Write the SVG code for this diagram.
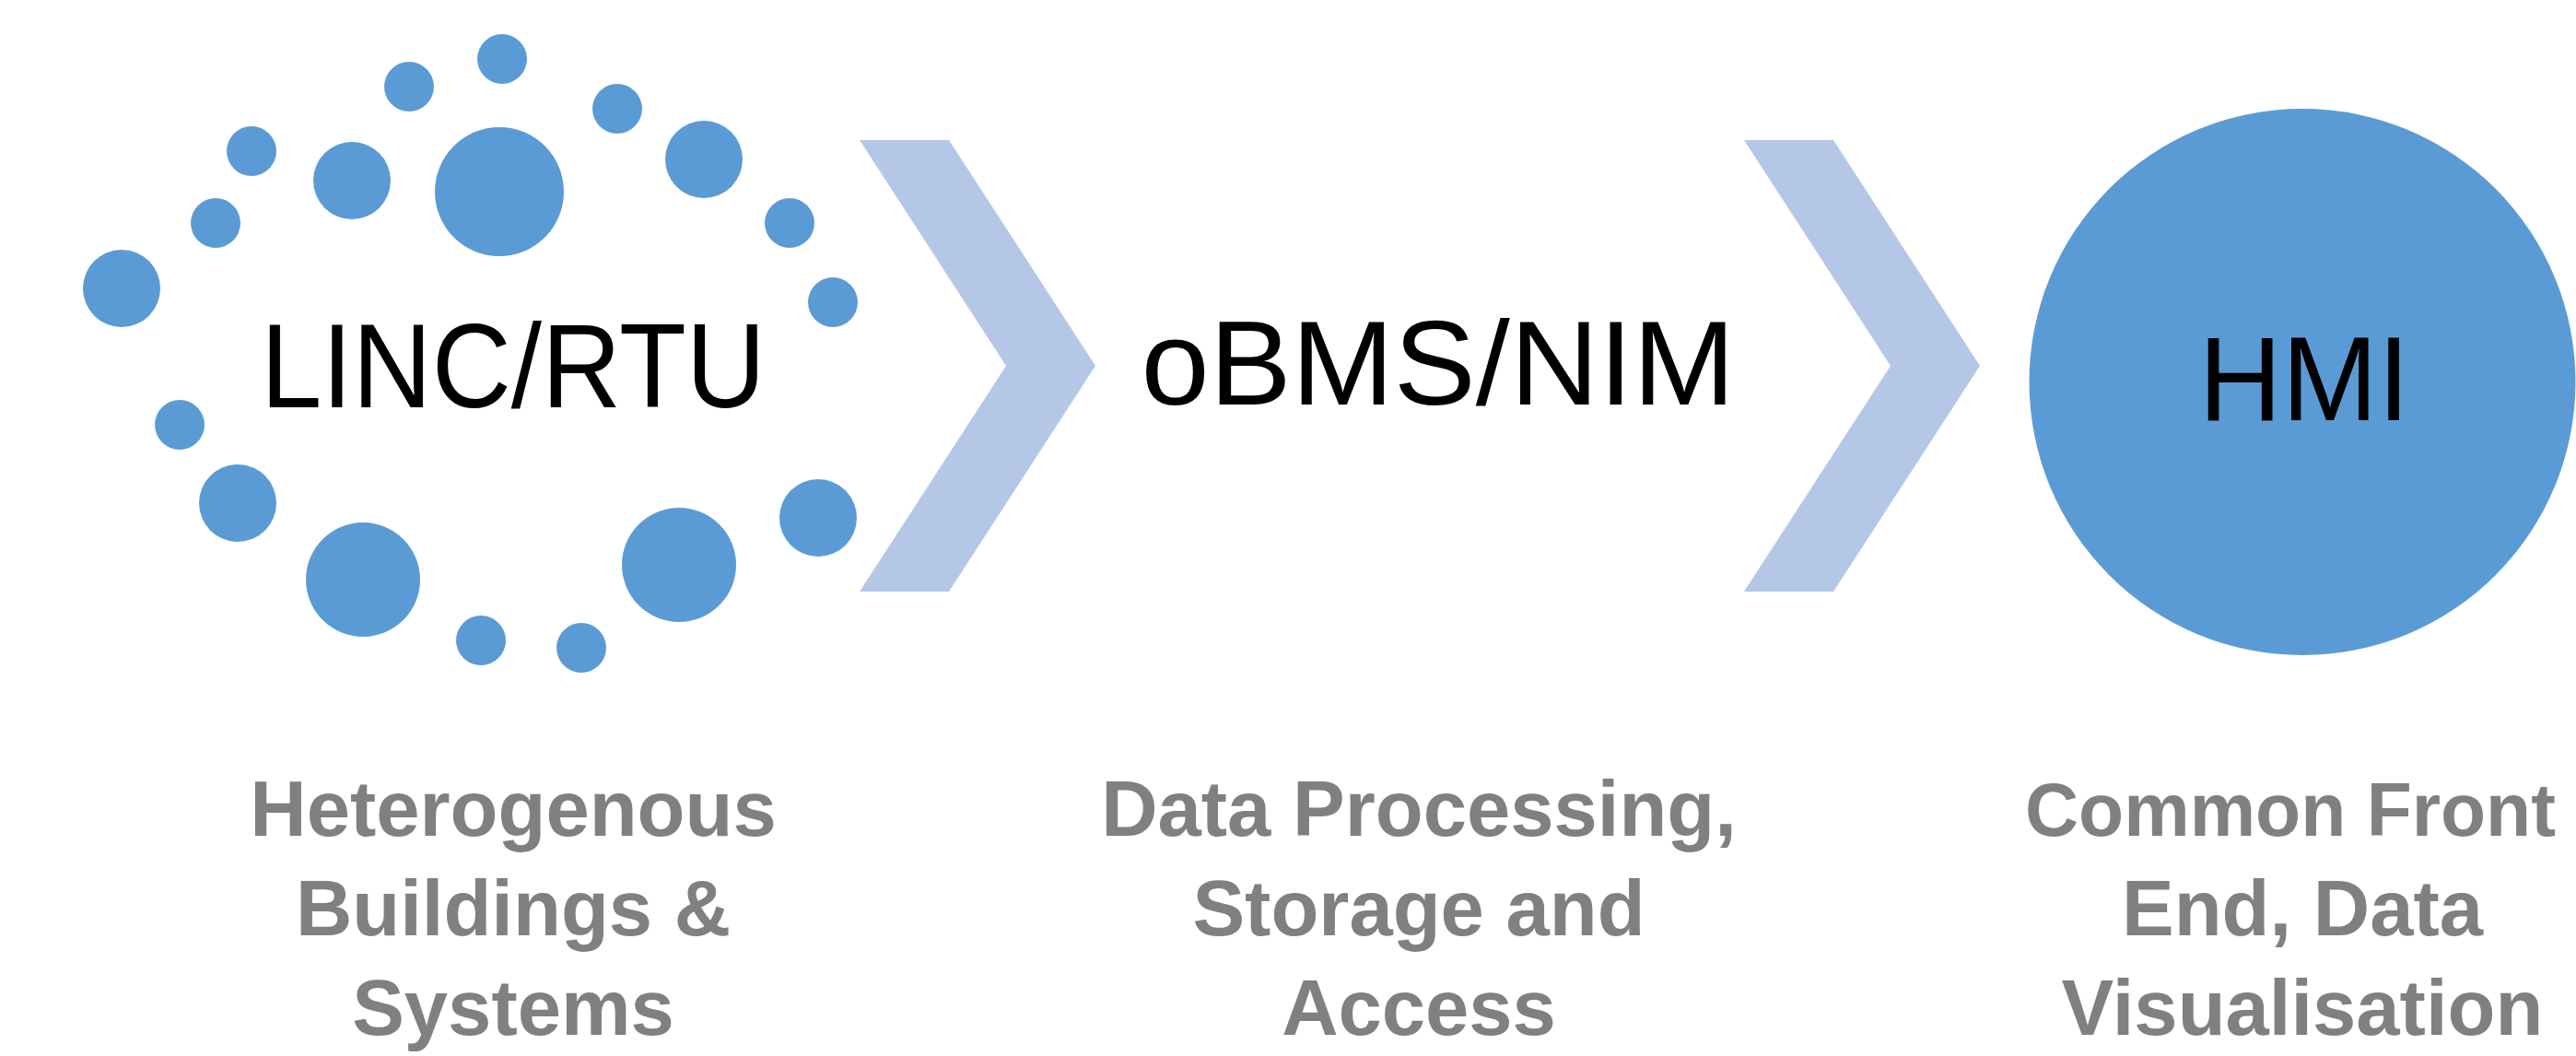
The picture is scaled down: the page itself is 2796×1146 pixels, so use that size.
<svg xmlns="http://www.w3.org/2000/svg" width="2796" height="1146" viewBox="0 0 2796 1146">
<style>
.dot{fill:#5B9BD5}
.chev{fill:#B4C7E7}
.title{font-family:"Liberation Sans",Arial,sans-serif;font-size:130px;fill:#000;text-anchor:middle}
.sub{font-family:"Liberation Sans",Arial,sans-serif;font-weight:bold;font-size:85px;fill:#808080;text-anchor:middle}
</style>
<rect width="2796" height="1146" fill="#fff"/>
<g id="linc-rtu">
<g id="dots">
<circle class="dot" cx="545" cy="64" r="27"/>
<circle class="dot" cx="444" cy="94" r="27"/>
<circle class="dot" cx="670" cy="118" r="27"/>
<circle class="dot" cx="273" cy="164" r="27"/>
<circle class="dot" cx="382" cy="196" r="42"/>
<circle class="dot" cx="542" cy="208" r="70"/>
<circle class="dot" cx="764" cy="173" r="42"/>
<circle class="dot" cx="234" cy="242" r="27"/>
<circle class="dot" cx="857" cy="242" r="27"/>
<circle class="dot" cx="132" cy="313" r="42"/>
<circle class="dot" cx="904" cy="328" r="27"/>
<circle class="dot" cx="195" cy="461" r="27"/>
<circle class="dot" cx="258" cy="546" r="42"/>
<circle class="dot" cx="394" cy="629" r="62"/>
<circle class="dot" cx="522" cy="695" r="27"/>
<circle class="dot" cx="631" cy="703" r="27"/>
<circle class="dot" cx="737" cy="613" r="62"/>
<circle class="dot" cx="888" cy="562" r="42"/>
</g>
<text class="title" x="557" y="442" textLength="548" lengthAdjust="spacingAndGlyphs">LINC/RTU</text>
</g>
<g id="obms-nim">
<text class="title" x="1561" y="439" textLength="645" lengthAdjust="spacingAndGlyphs">oBMS/NIM</text>
</g>
<g id="hmi">
<circle class="dot" cx="2499" cy="414.5" r="296.5"/>
<text class="title" x="2501" y="456" textLength="229" lengthAdjust="spacingAndGlyphs">HMI</text>
</g>
<g id="connectors">
<polygon class="chev" points="933,152 1030,152 1189,397 1030,642 933,642 1092,397"/>
<polygon class="chev" points="1893,152 1990,152 2149,397 1990,642 1893,642 2052,397"/>
</g>
<g id="labels">
<text class="sub" x="557" y="907">Heterogenous</text>
<text class="sub" x="557" y="1015">Buildings &amp;</text>
<text class="sub" x="557" y="1123">Systems</text>
<text class="sub" x="1540" y="907">Data Processing,</text>
<text class="sub" x="1540" y="1015">Storage and</text>
<text class="sub" x="1540" y="1123">Access</text>
<text class="sub" x="2486" y="907" style="font-size:82px" textLength="576" lengthAdjust="spacingAndGlyphs">Common Front</text>
<text class="sub" x="2499" y="1015">End, Data</text>
<text class="sub" x="2499" y="1123">Visualisation</text>
</g>
</svg>
